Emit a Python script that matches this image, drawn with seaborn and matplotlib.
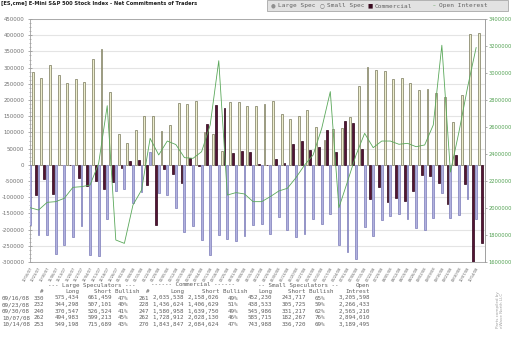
import matplotlib
matplotlib.use("Agg")
import matplotlib.pyplot as plt
from matplotlib.patches import Rectangle
from matplotlib.ticker import MultipleLocator
import numpy as np
import pandas as pd
import seaborn as sns

## weekly COT report dates
dates = ["10/16/07", "10/23/07", "10/30/07", "11/06/07", "11/13/07", "11/20/07", "11/27/07",
         "12/04/07", "12/11/07", "12/18/07", "12/26/07", "01/02/08", "01/08/08", "01/15/08",
         "01/22/08", "01/29/08", "02/05/08", "02/12/08", "02/19/08", "02/26/08", "03/04/08",
         "03/11/08", "03/18/08", "03/25/08", "04/01/08", "04/08/08", "04/15/08", "04/22/08",
         "04/29/08", "05/06/08", "05/13/08", "05/20/08", "05/27/08", "06/03/08", "06/10/08",
         "06/17/08", "06/24/08", "07/01/08", "07/08/08", "07/15/08", "07/22/08", "07/29/08",
         "08/05/08", "08/12/08", "08/19/08", "08/26/08", "09/02/08", "09/09/08", "09/16/08",
         "09/23/08", "09/30/08", "10/07/08", "10/14/08"]

## net positions
large_spec = [-186000, -218000, -216000, -274700, -249000, -223300, -189000, -278000, -282000,
              -168800, -82000, -74000, -117000, -84000, 41000, -86000, -92600, -133800,
              -208000, -190000, -233600, -278000, -216000, -228400, -236700, -220000, -185000,
              -182000, -213000, -161500, -202700, -223300, -213000, -166700, -183000, -151000,
              -247000, -269600, -290000, -192400, -220000, -171000, -158500, -151000, -166700,
              -195500, -200600, -163600, -86025, -162803, -155977, -104230, -166491]
small_spec = [286000, 267500, 308700, 277800, 253100, 265500, 257000, 327000, 358000,
              224000, 95700, 68000, 106000, 152000, 150000, 105000, 123500, 191000,
              188000, 195500, 100000, 93600, 44000, 193500, 193500, 183000, 183000,
              187000, 197500, 156000, 142000, 150000, 170000, 117000, 77000, 111000,
              113000, 147000, 244000, 301500, 293000, 290000, 265500, 268600, 252000,
              231500, 234600, 222000, 208513, 132808, 214769, 403448, 407268]
commercial = [-94700, -43200, -89500, -2000, -1500, -40000, -66000, -49400, -74000,
              -53500, -10300, 11300, 14400, -61700, -187000, -14400, -27800, -55600,
              20600, -3000, 124500, 185000, 175000, 35000, 43000, 39000, 2000,
              -1000, 16500, 7000, 62800, 75000, 46000, 54500, 108000, 39000,
              136000, 127600, 47300, -105000, -69000, -115000, -103000, -112000, -81300,
              -33000, -36000, -55600, -122488, 29995, -58792, -299218, -240777]
open_interest = [2002500, 1985000, 2042000, 2047000, 2072000, 2153000, 2158000, 2170000, 2330000,
                 2758000, 1763000, 1738000, 2022000, 2133000, 2516000, 2393000, 2496000, 2470000,
                 2373000, 2368000, 2417000, 2615000, 3091000, 2096000, 2114000, 2104000, 2047000,
                 2047000, 2084000, 2126000, 2146000, 2225000, 2318000, 2393000, 2590000, 2862000,
                 2002000, 2195000, 2393000, 2553000, 2447000, 2496000, 2496000, 2472000, 2479000,
                 2454000, 2467000, 2615000, 3205598, 2266433, 2565210, 2894010, 3189495]

groups = ["Large Spec", "Small Spec", "Commercial"]

## table under the chart
tbl_dates = ["09/16/08", "09/23/08", "09/30/08", "10/07/08", "10/14/08"]
ls_n = [330, 232, 240, 262, 253]
ls_long = [575434, 344298, 370547, 494983, 549198]
ls_short = [661459, 507101, 526524, 599213, 715689]
ls_bull = [47, 40, 41, 45, 43]
cm_n = [261, 228, 247, 262, 270]
cm_long = [2035538, 1436624, 1580958, 1728912, 1843847]
cm_short = [2158026, 1406629, 1639750, 2028130, 2084624]
cm_bull = [49, 51, 49, 46, 47]
ss_long = [452230, 438533, 545986, 585715, 743988]
ss_short = [243717, 305725, 331217, 182267, 336720]
ss_bull = [65, 59, 62, 76, 69]
oi_tbl = [3205598, 2266433, 2565210, 2894010, 3189495]

W, H = 512, 353
sns.set_style("white")
plt.rcParams["font.family"] = ["DejaVu Sans"]

fig = plt.figure(figsize=(W / 100, H / 100), dpi=100)
ax = fig.add_axes([30 / W, 1 - 262 / H, 455 / W, 243 / H])


def ftext(x, y, s, **kw):  # place text in pixel coords of the figure
    return fig.text(x / W, 1 - y / H, s, **kw)


df = pd.DataFrame({"date": dates * 3,
                   "net": large_spec + small_spec + commercial,
                   "group": [g for g in groups for _ in dates]})

sns.barplot(data=df, x="date", y="net", hue="group", order=dates, hue_order=groups,
            palette=["#a9a9e6", "#f2f2c6", "#5e0a34"], width=1.0, gap=0.35,
            errorbar=None, legend=False, linewidth=0.5, ax=ax, zorder=3)
edges = ["#7a7ab8", "#77775a", "#2a0016"]
for cont, ec in zip(ax.containers, edges):
    for p in cont:
        p.set_edgecolor(ec)

ax.set_ylim(-300000, 450000)
ax.set_xlim(-0.26, 52.7)
yt = np.arange(-300000, 450001, 50000)
ax.set_yticks(yt)
ax.set_yticklabels([str(v) for v in yt], fontsize=3.9, color="#707070")
ax.yaxis.set_minor_locator(MultipleLocator(12500))
ax.tick_params(axis="y", which="major", direction="inout", length=3, width=0.5, color="#888", pad=2.5)
ax.tick_params(axis="y", which="minor", direction="inout", length=2, width=0.4, color="#888")
ax.yaxis.grid(True, color="#e4e4e4", lw=0.8)
ax.set_axisbelow(True)

ax.set_xticks(np.arange(len(dates)) - 0.33)
ax.set_xticklabels(dates, rotation=60, ha="right", rotation_mode="anchor",
                   fontsize=2.6, color="#606060")
ax.tick_params(axis="x", direction="out", length=2, width=0.4, color="#888", pad=1.2)
ax.set_xlabel("")
ax.set_ylabel("")
for s in ax.spines.values():
    s.set_color("#a0a0a0")
    s.set_linewidth(0.6)

ax2 = ax.twinx()
sns.lineplot(x=np.arange(len(dates)) - 0.33, y=open_interest, ax=ax2,
             color="#5aa85a", lw=0.6, zorder=4)
ax2.set_ylim(1600000, 3400000)
yt2 = np.arange(1600000, 3400001, 200000)
ax2.set_yticks(yt2)
ax2.set_yticklabels([str(v) for v in yt2], fontsize=3.7, color="#50a050")
ax2.tick_params(axis="y", direction="out", length=1.5, width=0.5, color="#888", pad=1)
ax2.set_ylabel("")
for k in ["left", "top", "bottom"]:
    ax2.spines[k].set_visible(False)
ax2.spines["right"].set_color("#a0a0a0")
ax2.spines["right"].set_linewidth(0.6)

# title
ftext(1, 4, "[ES,cme] E-Mini S&P 500 Stock Index - Net Commitments of Traders",
      fontsize=3.7, fontweight="bold", color="#202020", va="center")

# legend box
fig.add_artist(Rectangle((267 / W, 1 - 11 / H), 241 / W, 10.5 / H, transform=fig.transFigure,
                         facecolor="#e2e2e2", edgecolor="#a8a8a8", lw=0.6))
mono = "DejaVu Sans Mono"
leg = [(273, "●", "#909090", "Large Spec"), (322, "○", "#707070", "Small Spec"),
       (370, "■", "#3a0a20", "Commercial"), (434, "–", "#50a050", "Open Interest")]
for x, m, c, lab in leg:
    ftext(x, 6, m, fontsize=4, color=c, va="center", ha="center")
    ftext(x + 5, 6, lab, fontsize=4.4, color="#606060", va="center", family=mono)

# table
tk = dict(fontsize=4.2, color="#606060", family=mono, va="center")
ty = 285
ftext(92, ty, "--- Large Speculators ---", ha="center", **tk)
ftext(193, ty, "------ Commercial ------", ha="center", **tk)
ftext(298, ty, "-- Small Speculators --", ha="center", **tk)
ftext(370, ty, "Open", ha="right", **tk)
hdr = [(44, "#"), (79, "Long"), (140, "Short Bullish"), (149, "#"), (184, "Long"),
       (247, "Short Bullish"), (272, "Long"), (334, "Short Bullish"), (370, "Intrest")]
for x, s in hdr:
    ftext(x, ty + 6.3, s, ha="right", **tk)

for i, d in enumerate(tbl_dates):
    y = ty + 13 + i * 6.6
    ftext(2, y, d, ha="left", **tk)
    cols = [(44, str(ls_n[i])), (79, f"{ls_long[i]:,}"), (112, f"{ls_short[i]:,}"),
            (128, f"{ls_bull[i]}%"), (149, str(cm_n[i])), (184, f"{cm_long[i]:,}"),
            (219, f"{cm_short[i]:,}"), (238, f"{cm_bull[i]}%"), (272, f"{ss_long[i]:,}"),
            (306, f"{ss_short[i]:,}"), (325, f"{ss_bull[i]}%"), (370, f"{oi_tbl[i]:,}")]
    for x, s in cols:
        ftext(x, y, s, ha="right", **tk)

ftext(500, 310, "Parts compiled by\neWave North LLC", fontsize=3, color="#a0a0a0",
      rotation=90, ha="center", va="center", linespacing=1.1)

fig.savefig("out.png", dpi=100)
